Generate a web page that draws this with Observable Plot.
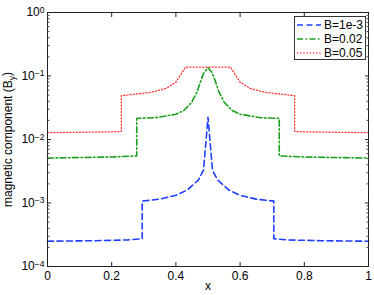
<!DOCTYPE html>
<html><head><meta charset="utf-8">
<script src="https://cdn.jsdelivr.net/npm/d3@7"></script>
<script src="https://cdn.jsdelivr.net/npm/@observablehq/plot@0.6"></script>
<style>
body{margin:0;background:#fff;font-family:"Liberation Sans",Arial,sans-serif}
#wrap{position:relative;width:374px;height:295px}
#legend{position:absolute;left:294px;top:16px;width:72px;height:44px;border:1px solid #333;background:#fff;box-sizing:border-box;font-size:12px;color:#000}
.item{position:absolute;left:2px;height:13px;display:flex;align-items:center;white-space:nowrap}
.item svg{margin-right:3px}
</style></head><body><div id="wrap"></div>
<script>
// ---- data ----
const seriesLabels = ["B=1e-3", "B=0.02", "B=0.05"];

const blueX = [0, 0.15, 0.25, 0.295, 0.295, 0.35, 0.40, 0.435, 0.47, 0.486, 0.493, 0.5, 0.507, 0.514, 0.53, 0.565, 0.60, 0.65, 0.705, 0.705, 0.75, 0.85, 1];
const blueY = [2.5e-4, 2.55e-4, 2.62e-4, 2.74e-4, 1.07e-3, 1.15e-3, 1.32e-3, 1.6e-3, 2.3e-3, 3.3e-3, 8.5e-3, 0.0224, 8.5e-3, 3.3e-3, 2.3e-3, 1.6e-3, 1.32e-3, 1.15e-3, 1.07e-3, 2.74e-4, 2.62e-4, 2.55e-4, 2.5e-4];

const greenX = [0, 0.1, 0.2, 0.278, 0.278, 0.335, 0.4, 0.425, 0.45, 0.455, 0.466, 0.476, 0.487, 0.5, 0.513, 0.524, 0.534, 0.545, 0.55, 0.575, 0.6, 0.665, 0.722, 0.722, 0.8, 0.9, 1];
const greenY = [0.0051, 0.0052, 0.0053, 0.0055, 0.0215, 0.022, 0.025, 0.0286, 0.039, 0.044, 0.056, 0.08, 0.112, 0.135, 0.112, 0.08, 0.056, 0.044, 0.039, 0.0286, 0.025, 0.022, 0.0215, 0.0055, 0.0053, 0.0052, 0.0051];

const redX = [0, 0.1, 0.2, 0.23, 0.23, 0.245, 0.32, 0.37, 0.4, 0.42, 0.43, 0.57, 0.58, 0.6, 0.63, 0.68, 0.755, 0.77, 0.77, 0.8, 0.9, 1];
const redY = [0.0128, 0.013, 0.0132, 0.0134, 0.049, 0.050, 0.055, 0.064, 0.08, 0.115, 0.138, 0.138, 0.115, 0.08, 0.064, 0.055, 0.050, 0.049, 0.0134, 0.0132, 0.013, 0.0128];

const xTicks = [0, 0.2, 0.4, 0.6, 0.8, 1];
const xTickLabels = ["0", "0.2", "0.4", "0.6", "0.8", "1"];
const yTicks = [1e-4, 1e-3, 1e-2, 1e-1, 1];
const yTickExps = ["−4", "−3", "−2", "−1", "0"];
const yMinorTicks = [];
for (const d of [1e-4, 1e-3, 1e-2, 1e-1]) for (let k = 2; k <= 9; k++) yMinorTicks.push(k * d);

// ---- styles ----
const colors = ["#1f3fff", "#1aa01a", "#ff3b3b"];
const dashes = ["6,3.5", "6,2.5,1.5,2.5", "1.2,2"];
const widths = [1.6, 1.6, 1.3];

const seriesData = [
  blueX.map((x, i) => ({x, y: blueY[i]})),
  greenX.map((x, i) => ({x, y: greenY[i]})),
  redX.map((x, i) => ({x, y: redY[i]}))
];

const noText = () => "";
const plot = Plot.plot({
  width: 374, height: 295,
  marginLeft: 47, marginRight: 6, marginTop: 12, marginBottom: 29,
  style: {fontFamily: '"Liberation Sans", Arial, sans-serif', fontSize: "12px", color: "#000", background: "#fff"},
  x: {domain: [0, 1]},
  y: {type: "log", domain: [1e-4, 1]},
  marks: [
    ...seriesData.map((d, i) => Plot.line(d, {x: "x", y: "y", stroke: colors[i], strokeDasharray: dashes[i], strokeWidth: widths[i]})),
    Plot.frame({stroke: "#222"}),
    Plot.axisX(xTicks, {anchor: "bottom", tickSize: 0, tickPadding: 5, tickFormat: d => xTickLabels[xTicks.indexOf(d)], label: "x", labelAnchor: "center", labelOffset: 23, fontSize: 12}),
    Plot.axisX(xTicks, {anchor: "bottom", tickSize: -4, tickFormat: noText, label: null, stroke: "#222"}),
    Plot.axisX(xTicks, {anchor: "top", tickSize: -4, tickFormat: noText, label: null, stroke: "#222"}),
    Plot.axisY(yTicks, {anchor: "left", tickSize: 0, tickPadding: 3, tickFormat: d => "10^" + yTickExps[yTicks.indexOf(d)], label: "magnetic component (B_y)", labelAnchor: "center", labelOffset: 44, fontSize: 12}),
    Plot.axisY(yTicks, {anchor: "left", tickSize: -4, tickFormat: noText, label: null, stroke: "#222"}),
    Plot.axisY(yTicks, {anchor: "right", tickSize: -4, tickFormat: noText, label: null, stroke: "#222"}),
    Plot.axisY(yMinorTicks, {anchor: "left", tickSize: -2.5, tickFormat: noText, label: null, stroke: "#444"}),
    Plot.axisY(yMinorTicks, {anchor: "right", tickSize: -2.5, tickFormat: noText, label: null, stroke: "#444"})
  ]
});

// superscripts on the y tick labels, subscript in the y label
const svgNS = "http://www.w3.org/2000/svg";
plot.querySelectorAll('[aria-label="y-axis tick label"] text').forEach(t => {
  const s = t.textContent;
  if (!s.startsWith("10^")) return;
  const exp = s.slice(3);
  t.textContent = "";
  const base = document.createElementNS(svgNS, "tspan"); base.textContent = "10";
  const sup = document.createElementNS(svgNS, "tspan"); sup.textContent = exp;
  sup.setAttribute("dy", "-0.45em"); sup.setAttribute("font-size", "8.5px");
  t.append(base, sup);
});
plot.querySelectorAll('[aria-label="y-axis label"] text').forEach(t => {
  t.textContent = "";
  const a = document.createElementNS(svgNS, "tspan"); a.textContent = "magnetic component (B";
  const b = document.createElementNS(svgNS, "tspan"); b.textContent = "y"; b.setAttribute("dy", "0.3em"); b.setAttribute("font-size", "8.5px");
  const c = document.createElementNS(svgNS, "tspan"); c.textContent = ")"; c.setAttribute("dy", "-0.3em");
  t.append(a, b, c);
});
plot.querySelectorAll('[aria-label="x-axis label"] text').forEach(t => { t.textContent = "x"; });

const wrap = document.getElementById("wrap");
wrap.appendChild(plot);

// legend
const legend = document.createElement("div");
legend.id = "legend";
seriesLabels.forEach((lab, i) => {
  const it = document.createElement("div");
  it.className = "item";
  it.style.top = (1.5 + i * 14) + "px";
  it.innerHTML = `<svg width="24" height="6"><line x1="0" y1="3" x2="24" y2="3" stroke="${colors[i]}" stroke-width="${widths[i]}" stroke-dasharray="${dashes[i]}"/></svg><span>${lab}</span>`;
  legend.appendChild(it);
});
wrap.appendChild(legend);
</script>
</body></html>
